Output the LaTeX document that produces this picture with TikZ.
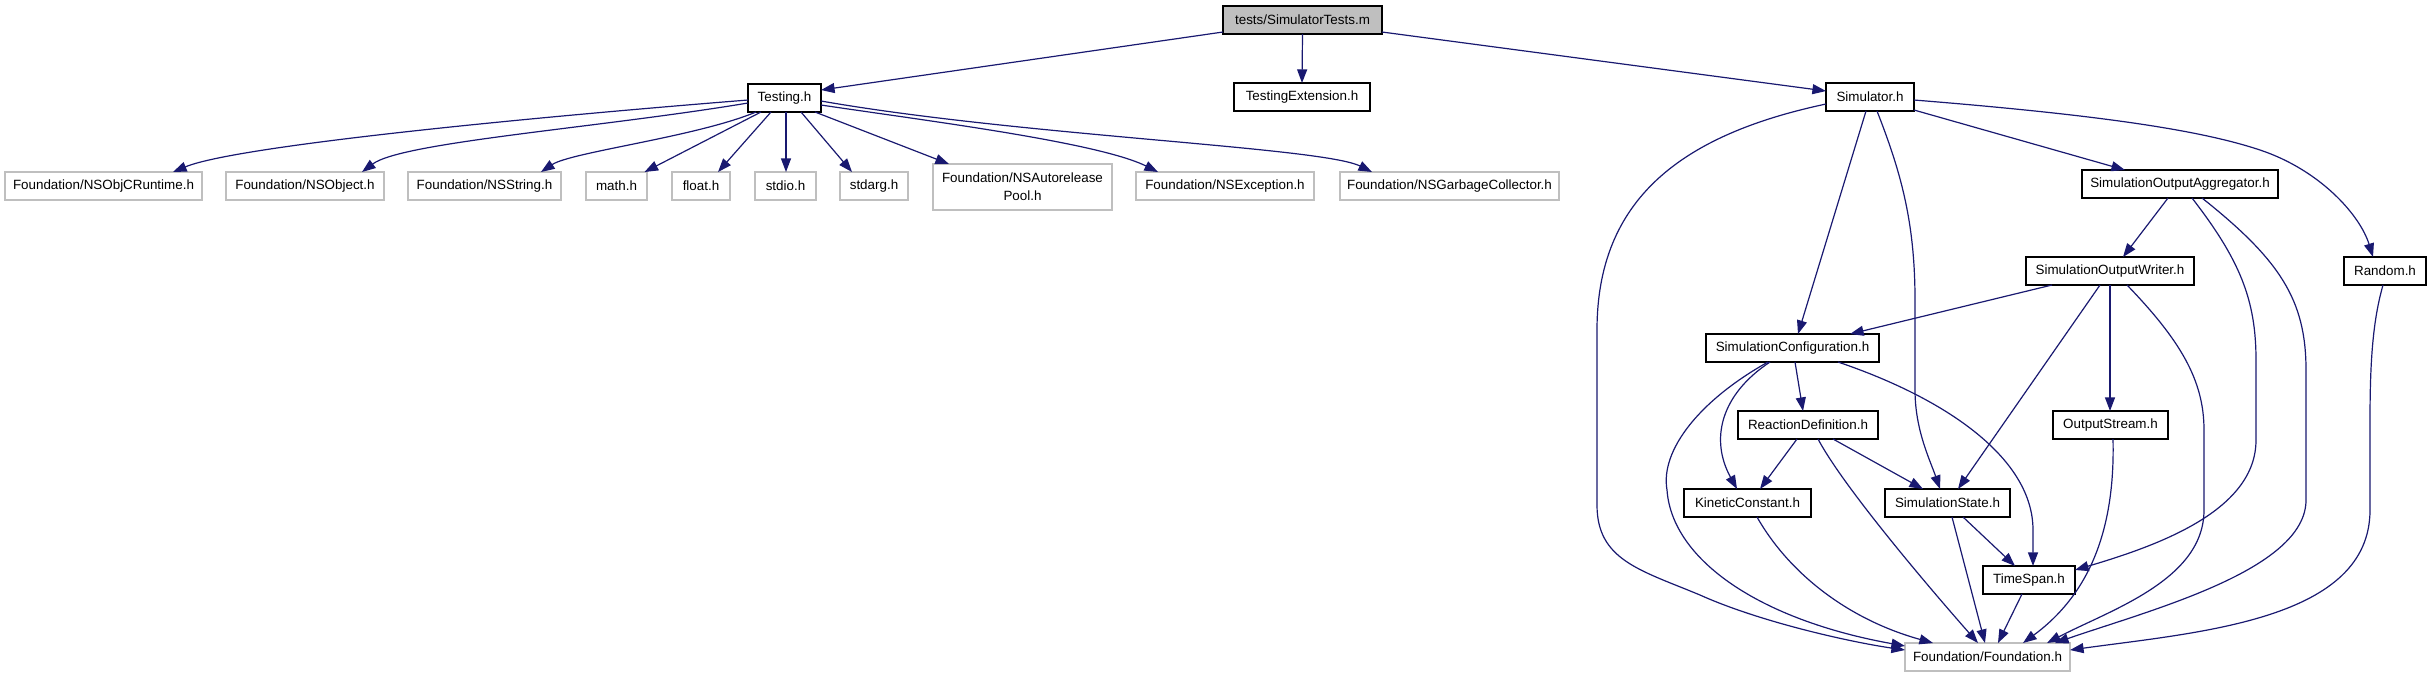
\documentclass[tikz,border=0pt]{standalone}
\usepackage{fontspec}
\setmainfont{Liberation Sans}
\usetikzlibrary{arrows.meta,calc}
\definecolor{navy}{HTML}{191970}
\definecolor{gry}{HTML}{BFBFBF}
\begin{document}
\begin{tikzpicture}[x=0.5pt,y=-0.5pt,
  every node/.style={font=\fontsize{6.7}{9}\selectfont, inner sep=0pt, minimum height=14pt},
  ibox/.style={draw=black, line width=0.65pt, fill=white, minimum width={#1*0.5pt}},
  xbox/.style={draw=gry, line width=0.65pt, fill=white, minimum width={#1*0.5pt}},
  rbox/.style={draw=black, line width=0.65pt, fill=gry, minimum width={#1*0.5pt}},
  dep/.style={draw=navy, line width=0.6pt, -{Triangle[length=6.8pt,width=5pt]}}]
\useasboundingbox (0,0) rectangle (2432,677);
% nodes
\node[rbox=159] (R) at (1302.5,20) {tests/SimulatorTests.m};
\node[ibox=73] (T) at (784.5,98) {Testing.h};
\node[ibox=136] (TE) at (1302,97) {TestingExtension.h};
\node[ibox=88] (S) at (1870,97) {Simulator.h};
\node[xbox=197] (N1) at (103.5,186) {Foundation/NSObjCRuntime.h};
\node[xbox=158] (N2) at (305,186) {Foundation/NSObject.h};
\node[xbox=153] (N3) at (484.5,186) {Foundation/NSString.h};
\node[xbox=61] (N4) at (616.5,186) {math.h};
\node[xbox=58] (N5) at (701,186) {float.h};
\node[xbox=61] (N6) at (785.5,186) {stdio.h};
\node[xbox=68] (N7) at (874,186) {stdarg.h};
\node[xbox=179, minimum height=23pt, align=center] (N8) at (1022.5,187) {Foundation/NSAutorelease\\Pool.h};
\node[xbox=178] (N9) at (1225,186) {Foundation/NSException.h};
\node[xbox=219] (N10) at (1449.5,186) {Foundation/NSGarbageCollector.h};
\node[ibox=196] (A) at (2180,184) {SimulationOutputAggregator.h};
\node[ibox=168] (W) at (2110,271) {SimulationOutputWriter.h};
\node[ibox=82] (Rn) at (2385,271) {Random.h};
\node[ibox=173] (C) at (1792.5,348) {SimulationConfiguration.h};
\node[ibox=140] (RD) at (1808,425) {ReactionDefinition.h};
\node[ibox=115] (OS) at (2110.5,425) {OutputStream.h};
\node[ibox=127] (K) at (1747.5,503) {KineticConstant.h};
\node[ibox=125] (SS) at (1947.5,503) {SimulationState.h};
\node[ibox=92] (TS) at (2029,580) {TimeSpan.h};
\node[xbox=165] (F) at (1987.5,657) {Foundation/Foundation.h};
% root edges
\draw[dep] ($(R)+(-79.5,12)$) -- ($(T)+(36.5,-8)$);
\draw[dep] ($(R)+(0,14)$) -- ($(TE)+(0,-14)$);
\draw[dep] ($(R)+(79.5,12)$) -- ($(S)+(-44,-6)$);
% Testing fan
\draw[dep] ($(T)+(-36.5,2)$) .. controls +(-250,20) and +(60,-25) .. ($(N1)+(69.5,-14)$);
\draw[dep] ($(T)+(-36.5,5)$) .. controls +(-150,25) and +(40,-30) .. ($(N2)+(57,-14)$);
\draw[dep] ($(T)+(-28.5,14)$) .. controls +(-60,25) and +(30,-20) .. ($(N3)+(56.5,-14)$);
\draw[dep] ($(T)+(-23.5,14)$) -- ($(N4)+(28,-14)$);
\draw[dep] ($(T)+(-13.5,14)$) -- ($(N5)+(17,-14)$);
\draw[dep] ($(T)+(1.5,14)$) -- ($(N6)+(0.5,-14)$);
\draw[dep] ($(T)+(16.5,14)$) -- ($(N7)+(-22,-14)$);
\draw[dep] ($(T)+(30.5,14)$) -- ($(N8)+(-73.5,-23)$);
\draw[dep] ($(T)+(36.5,7)$) .. controls +(100,15) and +(-60,-30) .. ($(N9)+(-67,-14)$);
\draw[dep] ($(T)+(36.5,3)$) .. controls +(200,35) and +(-50,-25) .. ($(N10)+(-77.5,-14)$);
% Simulator edges
\draw[dep] ($(S)+(-44,7)$) .. controls (1680,135) and (1597,200) .. (1597,330) -- (1597,505) .. controls (1597,560) and (1640,570) .. (1700,595) .. controls (1760,622) and (1850,642) .. ($(F)+(-82.5,-7)$);
\draw[dep] ($(S)+(-4,14)$) -- ($(C)+(5.5,-14)$);
\draw[dep] ($(S)+(7,14)$) .. controls (1900,170) and (1915,220) .. (1915,300) -- (1915,390) .. controls (1915,430) and (1930,460) .. ($(SS)+(-7.5,-14)$);
\draw[dep] ($(S)+(44,13)$) -- ($(A)+(-55,-14)$);
\draw[dep] ($(S)+(44,3)$) .. controls (2100,115) and (2200,130) .. (2260,150) .. controls (2320,170) and (2360,215) .. ($(Rn)+(-12,-14)$);
% Aggregator edges
\draw[dep] ($(A)+(-12,14)$) -- ($(W)+(13,-14)$);
\draw[dep] ($(A)+(12,14)$) .. controls (2240,260) and (2256,300) .. (2256,360) -- (2256,440) .. controls (2256,510) and (2160,545) .. ($(TS)+(46,-10)$);
\draw[dep] ($(A)+(22,14)$) .. controls (2280,260) and (2306,300) .. (2306,370) -- (2306,500) .. controls (2306,570) and (2150,610) .. ($(F)+(67.5,-14)$);
% Writer edges
\draw[dep] ($(W)+(-58,14)$) -- ($(C)+(57.5,-14)$);
\draw[dep] ($(W)+(-10,14)$) -- ($(SS)+(10.5,-14)$);
\draw[dep] ($(W)+(0,14)$) -- ($(OS)+(-0.5,-14)$);
\draw[dep] ($(W)+(17,14)$) .. controls (2180,340) and (2204,380) .. (2204,430) -- (2204,510) .. controls (2204,580) and (2110,610) .. ($(F)+(59.5,-14)$);
% Random
\draw[dep] ($(Rn)+(-2,14)$) .. controls (2373,320) and (2370,360) .. (2370,420) -- (2370,510) .. controls (2370,620) and (2200,632) .. ($(F)+(82.5,-7)$);
% Configuration edges
\draw[dep] ($(C)+(2.5,14)$) -- ($(RD)+(-5,-14)$);
\draw[dep] ($(C)+(-22.5,14)$) .. controls (1720,395) and (1710,440) .. ($(K)+(-10.5,-14)$);
\draw[dep] ($(C)+(-24.5,14)$) .. controls (1700,400) and (1660,450) .. (1667,490) .. controls (1672,560) and (1760,620) .. ($(F)+(-82.5,-11)$);
\draw[dep] ($(C)+(45.5,14)$) .. controls (1950,400) and (2033,460) .. (2033,530) -- ($(TS)+(4,-14)$);
% ReactionDefinition edges
\draw[dep] ($(RD)+(-11,14)$) -- ($(K)+(12.5,-14)$);
\draw[dep] ($(RD)+(25,14)$) -- ($(SS)+(-24.5,-14)$);
\draw[dep] ($(RD)+(10,14)$) .. controls (1845,490) and (1940,600) .. ($(F)+(-9.5,-14)$);
% others
\draw[dep] ($(K)+(9.5,14)$) .. controls (1790,575) and (1850,620) .. ($(F)+(-54.5,-14)$);
\draw[dep] ($(SS)+(15.5,14)$) -- ($(TS)+(-14,-14)$);
\draw[dep] ($(SS)+(4.5,14)$) -- ($(F)+(-2.5,-14)$);
\draw[dep] ($(TS)+(-7,14)$) -- ($(F)+(10.5,-14)$);
\draw[dep] ($(OS)+(2.5,14)$) .. controls (2115,520) and (2095,590) .. ($(F)+(35.5,-14)$);
\end{tikzpicture}
\end{document}
